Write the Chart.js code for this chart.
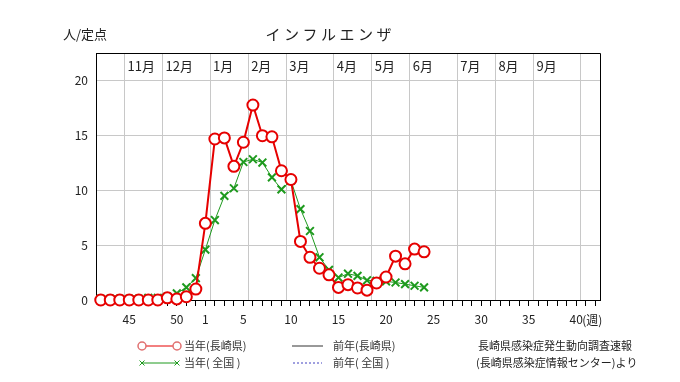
<!DOCTYPE html>
<html>
<head>
<meta charset="utf-8">
<script src="https://cdn.jsdelivr.net/npm/chart.js@4/dist/chart.umd.min.js"></script>
<style>
  body { margin: 0; background: #fff; }
</style>
</head>
<body>
<canvas id="myChart" width="680" height="382"></canvas>
<script>
// 週番号 (x軸の位置 0..52)
const weeks = [42,43,44,45,46,47,48,49,50,51,52,
  1,2,3,4,5,6,7,8,9,10,11,12,13,14,15,16,17,18,19,20,
  21,22,23,24,25,26,27,28,29,30,31,32,33,34,35,36,37,38,39,40,41,42];
const shownWeeks = [45,50,1,5,10,15,20,25,30,35,40];
const months = ['11月','12月','1月','2月','3月','4月','5月','6月','7月','8月','9月'];
const monthEdges = [2.5,6.5,11.5,15.5,19.5,24.5,28.5,32.5,37.5,41.5,45.5,50.5];
const yTicks = [0,5,10,15,20];

// 当年(長崎県)
const nagasaki = [0,0,0,0,0,0,0,0.2,0.1,0.3,1.0,
  7.0,14.7,14.8,12.2,14.4,17.8,15.0,14.9,11.8,11.0,
  5.35,3.9,2.9,2.3,1.15,1.4,1.1,0.9,1.55,2.1,4.0,3.3,4.65,4.4];
// 当年(全国)
const zenkoku = [0.1,0.1,0.1,0.1,0.1,0.2,0.2,0.3,0.6,1.15,2.0,
  4.6,7.3,9.5,10.2,12.6,12.85,12.55,11.2,10.1,10.9,
  8.3,6.3,3.9,2.75,2.05,2.4,2.2,1.8,1.75,1.7,1.6,1.45,1.3,1.15];
// 前年 (図中にデータなし)
const prevNagasaki = [];
const prevZenkoku = [];

const RED = '#e60000';
const GREEN = '#1e9a1e';
const FONT = '"Noto Sans CJK JP", "Noto Sans", sans-serif';

const toPoints = (arr) => arr.map((v, i) => ({x: i, y: v}));

const extras = {
    id: 'extras',
    beforeDatasetsDraw(chart) {
        const {ctx, chartArea: a} = chart;
        ctx.save();
        ctx.strokeStyle = '#000';
        ctx.lineWidth = 1;
        ctx.beginPath();
        ctx.moveTo(a.left, a.top + 0.5);
        ctx.lineTo(a.right + 0.5, a.top + 0.5);
        ctx.lineTo(a.right + 0.5, a.bottom);
        ctx.stroke();
        ctx.restore();
    },
    afterDraw(chart) {
        const {ctx} = chart;
        const xs = chart.scales.x;
        ctx.save();
        ctx.fillStyle = '#222';
        ctx.textBaseline = 'middle';

        // タイトル
        ctx.font = '15px ' + FONT;
        ctx.textAlign = 'center';
        const title = 'インフルエンザ';
        for (let i = 0; i < title.length; i++) {
            ctx.fillText(title[i], 273 + i * 18.5, 34);
        }
        ctx.font = '13px ' + FONT;
        ctx.textAlign = 'left';
        ctx.fillText('人/定点', 63, 34);

        // 月ラベル
        ctx.font = '13px ' + FONT;
        months.forEach((m, i) => {
            ctx.fillText(m, xs.getPixelForValue(monthEdges[i]) + 3, 66);
        });

        // (週)
        ctx.font = '12px ' + FONT;
        ctx.fillText('(週)', xs.getPixelForValue(50) + 6, 320);

        // 凡例
        const ds = chart.data.datasets;
        const rows = [346, 363];
        const drawItem = (d, x0, x1, y, tx) => {
            ctx.save();
            ctx.strokeStyle = d.borderColor;
            ctx.lineWidth = 1;
            ctx.setLineDash(d.borderDash || []);
            ctx.beginPath();
            ctx.moveTo(x0, y);
            ctx.lineTo(x1, y);
            ctx.stroke();
            ctx.setLineDash([]);
            if (d.pointStyle === 'circle') {
                [x0, x1].forEach(px => {
                    ctx.beginPath();
                    ctx.arc(px, y, 4, 0, Math.PI * 2);
                    ctx.fillStyle = '#fff';
                    ctx.fill();
                    ctx.strokeStyle = '#e07070';
                    ctx.lineWidth = 1.5;
                    ctx.stroke();
                });
            } else if (d.pointStyle === 'crossRot') {
                [x0, x1].forEach(px => {
                    ctx.beginPath();
                    ctx.moveTo(px - 2.5, y - 2.5); ctx.lineTo(px + 2.5, y + 2.5);
                    ctx.moveTo(px - 2.5, y + 2.5); ctx.lineTo(px + 2.5, y - 2.5);
                    ctx.stroke();
                });
            }
            ctx.restore();
            ctx.font = '11px ' + FONT;
            ctx.fillStyle = '#333';
            ctx.textAlign = 'left';
            ctx.fillText(d.label, tx, y);
        };
        drawItem(ds[0], 142, 177, rows[0], 184);
        drawItem(ds[1], 142, 177, rows[1], 184);
        drawItem(ds[2], 292, 323, rows[0], 333);
        drawItem(ds[3], 293, 322, rows[1], 333);

        ctx.font = '11px ' + FONT;
        ctx.fillStyle = '#222';
        ctx.fillText('長崎県感染症発生動向調査速報', 478, rows[0]);
        ctx.fillText('(長崎県感染症情報センター)より', 476, rows[1]);
        ctx.restore();
    }
};

const ctx = document.getElementById('myChart');

new Chart(ctx, {
    type: 'line',
    data: {
        datasets: [{
            label: '当年(長崎県)',
            data: toPoints(nagasaki),
            borderColor: RED,
            borderWidth: 2,
            pointStyle: 'circle',
            pointRadius: 5.5,
            pointBorderWidth: 2,
            pointBackgroundColor: '#fff',
            pointBorderColor: RED,
            clip: false
        }, {
            label: '当年( 全国 )',
            data: toPoints(zenkoku),
            borderColor: GREEN,
            borderWidth: 1,
            pointStyle: 'crossRot',
            pointRadius: 5.5,
            pointBorderWidth: 2,
            pointBorderColor: GREEN,
            clip: false
        }, {
            label: '前年(長崎県)',
            data: toPoints(prevNagasaki),
            borderColor: '#333',
            borderWidth: 1,
            pointRadius: 0
        }, {
            label: '前年( 全国 )',
            data: toPoints(prevZenkoku),
            borderColor: '#4040c0',
            borderDash: [2, 2],
            borderWidth: 1,
            pointRadius: 0
        }]
    },
    options: {
        responsive: false,
        animation: false,
        layout: { padding: { top: 53, right: 80, bottom: 0, left: 0 } },
        plugins: {
            legend: { display: false },
            tooltip: { enabled: false }
        },
        scales: {
            x: {
                type: 'linear',
                min: -0.5,
                max: 52.5,
                afterBuildTicks: (axis) => {
                    axis.ticks = weeks.map((w, i) => ({value: i}));
                },
                afterFit: (axis) => { axis.height = 82; },
                ticks: {
                    autoSkip: false,
                    maxRotation: 0,
                    padding: 6,
                    color: '#222',
                    font: { family: FONT, size: 12 },
                    callback: (v) => shownWeeks.includes(weeks[v]) ? String(weeks[v]) : ''
                },
                grid: { drawOnChartArea: false, drawTicks: true, tickLength: 6, color: '#000' },
                border: { display: true, color: '#000', width: 1 }
            },
            x2: {
                type: 'linear',
                position: 'top',
                min: -0.5,
                max: 52.5,
                afterBuildTicks: (axis) => {
                    axis.ticks = monthEdges.map(v => ({value: v}));
                },
                afterFit: (axis) => { axis.height = 0; },
                ticks: { display: false },
                grid: { drawTicks: false, color: '#c8c8c8', lineWidth: 1 },
                border: { display: false }
            },
            y: {
                min: 0,
                max: 22.55,
                afterBuildTicks: (axis) => {
                    axis.ticks = yTicks.map(v => ({value: v}));
                },
                afterFit: (axis) => { axis.width = 96; },
                ticks: {
                    padding: 8,
                    color: '#222',
                    font: { family: FONT, size: 12 }
                },
                grid: {
                    drawTicks: false,
                    color: (c) => c.tick && c.tick.value === 0 ? 'rgba(0,0,0,0)' : '#c8c8c8'
                },
                border: { display: true, color: '#000', width: 1 }
            }
        }
    },
    plugins: [extras]
});
</script>
</body>
</html>
